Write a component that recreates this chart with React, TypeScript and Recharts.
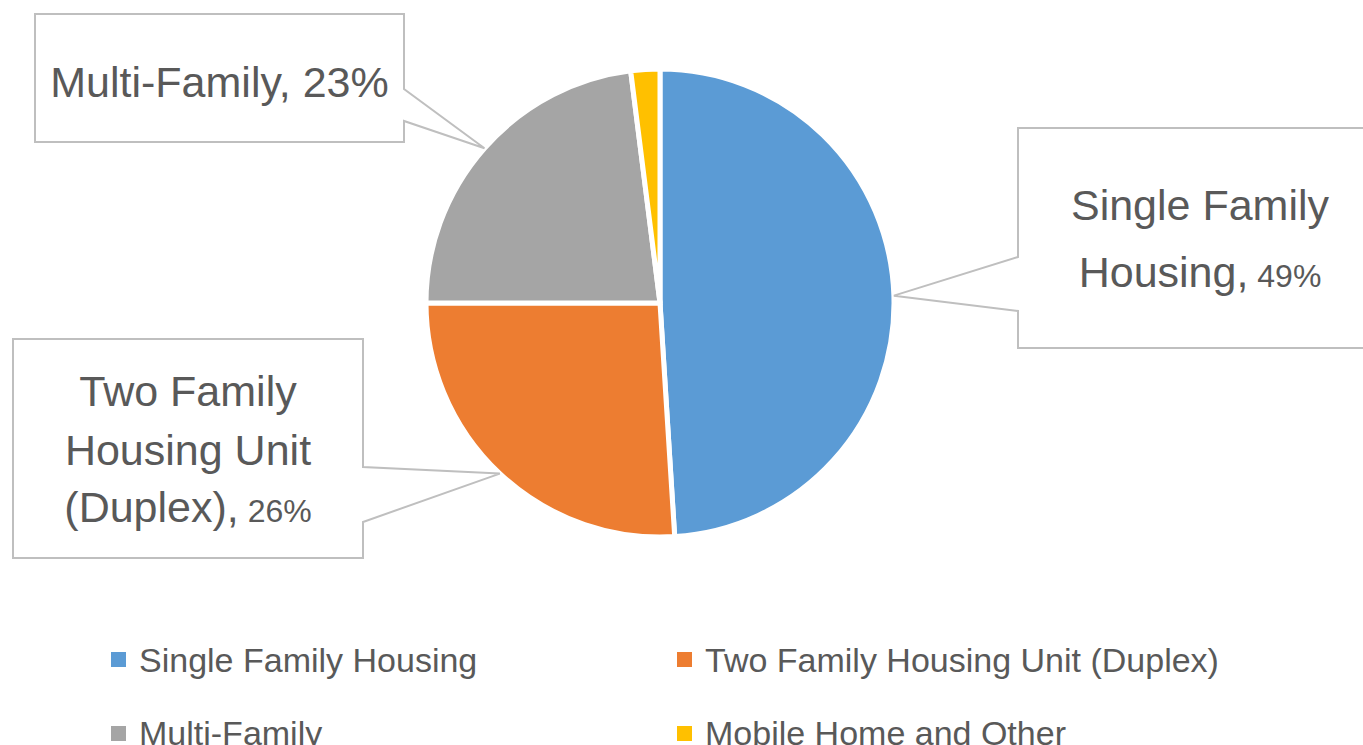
import { PieChart, Pie, Cell, Legend } from 'recharts'

const categories = [
  'Single Family Housing',
  'Two Family Housing Unit (Duplex)',
  'Multi-Family',
  'Mobile Home and Other',
]
const shares = [49, 26, 23, 2]
const colors = ['#5B9BD5', '#ED7D31', '#A5A5A5', '#FFC000']

// wrapped callout text, the percentage is appended to the last line
const calloutText = [
  ['Single Family', 'Housing,'],
  ['Two Family', 'Housing Unit', '(Duplex),'],
  ['Multi-Family,'],
  [],
]

// callout box placement (pointer = the box edge the leader lines leave from)
const calloutBoxes = [
  { x: 1018, y: 128, w: 364, h: 220, a1: 257, a2: 311, pointer: 'left', baselines: [220, 287], pctSize: 32 },
  { x: 13, y: 339, w: 350, h: 219, a1: 467, a2: 522, pointer: 'right', baselines: [406, 465, 522], pctSize: 32 },
  { x: 35, y: 14, w: 369, h: 128, a1: 89, a2: 121, pointer: 'right', baselines: [97], pctSize: 43 },
  null,
]

const FONT = '"Liberation Sans", Arial, sans-serif'
const TEXT = '#595959'
const RAD = Math.PI / 180

const data = categories.map((name, i) => ({ name, value: shares[i] }))

// eslint-disable-next-line @typescript-eslint/no-explicit-any
const renderCallout = (props: any) => {
  const { cx, cy, midAngle, outerRadius, index, value } = props
  const box = calloutBoxes[index]
  if (!box) return <g key={`c-${index}`} />
  const r = outerRadius
  const tx = cx + r * Math.cos(-midAngle * RAD)
  const ty = cy + r * Math.sin(-midAngle * RAD)
  const x1 = box.x + box.w
  const y1 = box.y + box.h
  const d = box.pointer === 'left'
    ? `M${box.x},${box.y} H${x1} V${y1} H${box.x} V${box.a2} L${tx},${ty} L${box.x},${box.a1} Z`
    : `M${box.x},${box.y} H${x1} V${box.a1} L${tx},${ty} L${x1},${box.a2} V${y1} H${box.x} Z`
  const lines = calloutText[index]
  const midX = box.x + box.w / 2
  return (
    <g key={`c-${index}`}>
      <path d={d} fill="#ffffff" stroke="#BFBFBF" strokeWidth={2} />
      {lines.map((line, i) => (
        <text
          key={i}
          x={midX}
          y={box.baselines[i]}
          textAnchor="middle"
          fontFamily={FONT}
          fontSize={43}
          fill={TEXT}
        >
          {line}
          {i === lines.length - 1 && (
            <tspan fontSize={box.pctSize}>{` ${value}%`}</tspan>
          )}
        </text>
      ))}
    </g>
  )
}

// eslint-disable-next-line @typescript-eslint/no-explicit-any
const renderLegend = ({ payload }: any) => {
  const items = [...(payload || [])].sort(
    (a: { value: string }, b: { value: string }) =>
      categories.indexOf(a.value) - categories.indexOf(b.value)
  )
  return (
    <div
      style={{
        display: 'grid',
        gridTemplateColumns: '566px 566px',
        gridAutoRows: '73.5px',
        paddingLeft: 111,
        fontFamily: FONT,
        fontSize: 34,
        color: TEXT,
      }}
    >
      {items.map((entry: { value: string }, i: number) => {
        const idx = categories.indexOf(entry.value)
        return (
          <div key={i} style={{ display: 'flex', alignItems: 'center' }}>
            <span
              style={{
                width: 15,
                height: 15,
                background: colors[idx >= 0 ? idx : i],
                marginRight: 13,
                flex: 'none',
              }}
            />
            <span style={{ lineHeight: 1, whiteSpace: 'nowrap' }}>{entry.value}</span>
          </div>
        )
      })}
    </div>
  )
}

export default function App() {
  return (
    <div style={{ position: 'absolute', left: 0, top: 0, background: '#ffffff' }}>
      <PieChart width={1363} height={745} margin={{ top: 0, right: 0, bottom: 0, left: 0 }}>
        <Pie
          data={data}
          dataKey="value"
          nameKey="name"
          cx={660}
          cy={303}
          outerRadius={234}
          startAngle={90}
          endAngle={-270}
          stroke="#ffffff"
          strokeWidth={5}
          label={renderCallout}
          labelLine={false}
          isAnimationActive={false}
        >
          {data.map((d, i) => (
            <Cell key={d.name} fill={colors[i]} />
          ))}
        </Pie>
        <Legend
          content={renderLegend}
          wrapperStyle={{ position: 'absolute', top: 623, left: 0, width: 1363 }}
        />
      </PieChart>
    </div>
  )
}
